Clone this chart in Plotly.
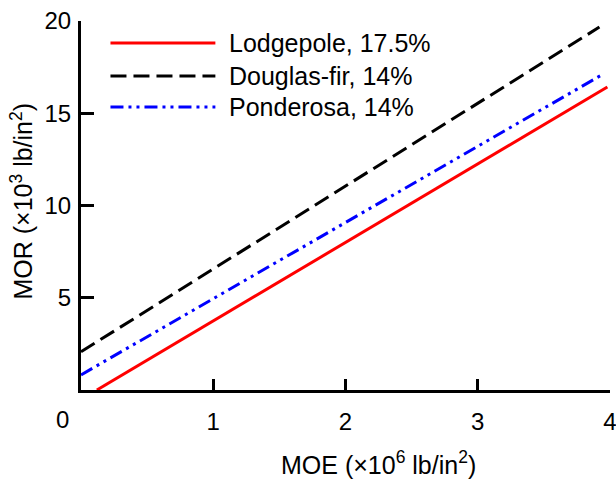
import plotly.graph_objects as go

# ---- data ----
series_names = ["Lodgepole, 17.5%", "Douglas-fir, 14%", "Ponderosa, 14%"]
lodgepole_moe = [0.12, 3.98]
lodgepole_mor = [0.0, 16.42]
douglas_moe = [0.0, 3.92]
douglas_mor = [2.07, 19.67]
ponderosa_moe = [0.0, 3.95]
ponderosa_mor = [0.82, 17.13]
x_ticks = [1, 2, 3, 4]
y_ticks = [5, 10, 15, 20]

W, H = 616, 479
L, R, T, B = 80.5, 6, 21, 89
PW, PH = W - L - R, H - T - B
FONT = "Arial, Liberation Sans, sans-serif"

def px2paper(px, py):
    return (px - L) / PW, 1 - (py - T) / PH

colors = ["#ff0000", "#000000", "#0000ff"]
dashes = ["solid", "16px,7px", "13px,5px,3px,5px,3px,5px"]
xs = [lodgepole_moe, douglas_moe, ponderosa_moe]
ys = [lodgepole_mor, douglas_mor, ponderosa_mor]

fig = go.Figure()
for name, x, y, c, d in zip(series_names, xs, ys, colors, dashes):
    fig.add_trace(go.Scatter(x=x, y=y, mode="lines", name=name,
                             line=dict(color=c, width=3, dash=d),
                             showlegend=False, cliponaxis=False))

# custom legend (long line samples)
rows_y = [43, 76, 107]
for name, c, d, ry in zip(series_names, colors, dashes, rows_y):
    x0, y0 = px2paper(110, ry)
    x1, _ = px2paper(215, ry)
    fig.add_shape(type="line", xref="paper", yref="paper", x0=x0, x1=x1, y0=y0, y1=y0,
                  line=dict(color=c, width=3, dash=d))
    tx, ty = px2paper(227, ry)
    fig.add_annotation(xref="paper", yref="paper", x=tx, y=ty, text=name, showarrow=False,
                       xanchor="left", yanchor="middle",
                       font=dict(family=FONT, size=25, color="#000"))

# origin label
ox, oy = px2paper(62, 419)
fig.add_annotation(xref="paper", yref="paper", x=ox, y=oy, text="0", showarrow=False,
                   xanchor="center", yanchor="middle", font=dict(family=FONT, size=24, color="#000"))

# axis titles
ax_, ay_ = px2paper(378, 463)
fig.add_annotation(xref="paper", yref="paper", x=ax_, y=ay_,
                   text="MOE (×10<sup>6</sup> lb/in<sup>2</sup>)", showarrow=False,
                   xanchor="center", yanchor="middle", font=dict(family=FONT, size=25, color="#000"))
bx, by = px2paper(21, 201)
fig.add_annotation(xref="paper", yref="paper", x=bx, y=by,
                   text="MOR (×10<sup>3</sup> lb/in<sup>2</sup>)", showarrow=False, textangle=-90,
                   xanchor="center", yanchor="middle", font=dict(family=FONT, size=25, color="#000"))

fig.update_xaxes(range=[0, 4], tickvals=x_ticks, ticktext=[str(v) for v in x_ticks],
                 showline=True, linecolor="#000", linewidth=3, ticks="inside", ticklen=11,
                 tickwidth=3, tickcolor="#000", showgrid=False, zeroline=False,
                 ticklabeloverflow="allow", ticklabelstandoff=8, automargin=False,
                 tickfont=dict(family=FONT, size=24, color="#000"))
fig.update_yaxes(range=[0, 20], tickvals=y_ticks, ticktext=[str(v) for v in y_ticks],
                 showline=True, linecolor="#000", linewidth=3, ticks="inside", ticklen=13,
                 tickwidth=3, tickcolor="#000", showgrid=False, zeroline=False,
                 ticklabeloverflow="allow", ticklabelstandoff=2, automargin=False,
                 tickfont=dict(family=FONT, size=24, color="#000"))
fig.update_layout(width=W, height=H, margin=dict(l=L, r=R, t=T, b=B, autoexpand=False),
                  plot_bgcolor="white", paper_bgcolor="white", showlegend=False)
fig.write_html("out.html")
